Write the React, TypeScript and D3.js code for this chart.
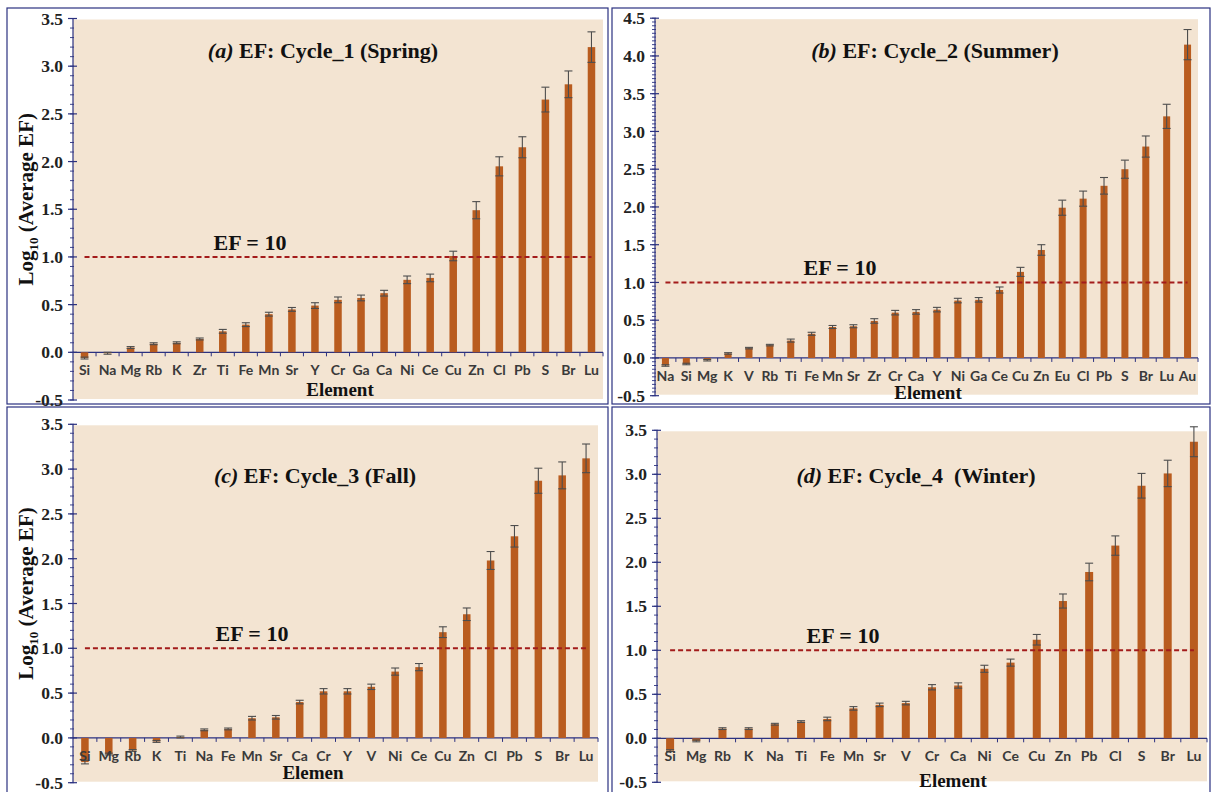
import React from 'react'
import * as d3 from 'd3'

// (a) Cycle_1 spring
const catsA = ['Si','Na','Mg','Rb','K','Zr','Ti','Fe','Mn','Sr','Y','Cr','Ga','Ca','Ni','Ce','Cu','Zn','Cl','Pb','S','Br','Lu']
const valsA = [-0.06,-0.01,0.05,0.09,0.10,0.14,0.22,0.29,0.40,0.45,0.49,0.55,0.57,0.62,0.76,0.78,1.01,1.49,1.95,2.15,2.65,2.81,3.20]
const errsA = [0.01,0.01,0.01,0.01,0.01,0.01,0.02,0.02,0.02,0.02,0.03,0.03,0.03,0.03,0.04,0.04,0.05,0.09,0.10,0.11,0.13,0.14,0.16]

// (b) Cycle_2 summer
const catsB = ['Na','Si','Mg','K','V','Rb','Ti','Fe','Mn','Sr','Zr','Cr','Ca','Y','Ni','Ga','Ce','Cu','Zn','Eu','Cl','Pb','S','Br','Lu','Au']
const valsB = [-0.10,-0.08,-0.03,0.06,0.13,0.17,0.23,0.32,0.41,0.42,0.49,0.60,0.61,0.64,0.76,0.77,0.90,1.14,1.43,1.99,2.11,2.28,2.50,2.80,3.20,4.15]
const errsB = [0.01,0.01,0.01,0.01,0.01,0.01,0.02,0.02,0.02,0.02,0.03,0.03,0.03,0.03,0.03,0.03,0.04,0.06,0.07,0.10,0.10,0.11,0.12,0.14,0.16,0.20]

// (c) Cycle_3 fall
const catsC = ['Si','Mg','Rb','K','Ti','Na','Fe','Mn','Sr','Ca','Cr','Y','V','Ni','Ce','Cu','Zn','Cl','Pb','S','Br','Lu']
const valsC = [-0.27,-0.18,-0.14,-0.04,0.01,0.09,0.10,0.22,0.23,0.40,0.52,0.52,0.57,0.74,0.79,1.18,1.38,1.98,2.25,2.87,2.93,3.12]
const errsC = [0.02,0.01,0.01,0.01,0.01,0.01,0.01,0.02,0.02,0.02,0.03,0.03,0.03,0.04,0.04,0.06,0.07,0.10,0.12,0.14,0.15,0.16]

// (d) Cycle_4 winter
const catsD = ['Si','Mg','Rb','K','Na','Ti','Fe','Mn','Sr','V','Cr','Ca','Ni','Ce','Cu','Zn','Pb','Cl','S','Br','Lu']
const valsD = [-0.14,-0.03,0.11,0.11,0.16,0.19,0.22,0.34,0.38,0.40,0.58,0.60,0.79,0.86,1.12,1.56,1.89,2.19,2.87,3.01,3.37]
const errsD = [0.01,0.01,0.01,0.01,0.01,0.01,0.02,0.02,0.02,0.02,0.03,0.03,0.04,0.04,0.06,0.08,0.10,0.11,0.14,0.15,0.17]

const yTicks4 = [-0.5,0,0.5,1,1.5,2,2.5,3,3.5]
const yTicks5 = [-0.5,0,0.5,1,1.5,2,2.5,3,3.5,4,4.5]

const serif = '"Liberation Serif", "Times New Roman", serif'
const sans = 'Lato, "Open Sans", sans-serif'
const navy = '#2b3180'
const barColor = '#b95c1f'

function Panel(p: any) {
  const x = d3.scaleBand().domain(p.cats).range([p.left, p.right]).padding(0)
  const y = d3.scaleLinear().domain([p.yMin, p.yMax]).range([p.bottom, p.top])
  const y0 = y(0)
  const bw = p.barW
  const minor = d3.range(p.yMin, p.yMax + 1e-9, p.minorStep)
  const first = x(p.cats[0])! + x.bandwidth() / 2
  const last = x(p.cats[p.cats.length - 1])! + x.bandwidth() / 2
  return (
    <g>
      <rect x={p.box[0]} y={p.box[1]} width={p.box[2]} height={p.box[3]} fill="#fff" stroke={navy} strokeWidth={1.2} />
      <rect x={p.left} y={y(p.yMax) + 1} width={p.right - p.left} height={y(p.yMin) - y(p.yMax) - 2} fill="#f3e4d2" />
      {/* y axis */}
      <line x1={p.left} x2={p.left} y1={y(p.yMax)} y2={y(p.yMin)} stroke={navy} strokeWidth={1.2} />
      {minor.map((t, i) => (
        <line key={'m' + i} x1={p.left - 3} x2={p.left + 1} y1={y(t)} y2={y(t)} stroke={navy} strokeWidth={0.9} />
      ))}
      {p.ticks.map((t: number) => (
        <g key={t}>
          <line x1={p.left - 5} x2={p.left + 4} y1={y(t)} y2={y(t)} stroke={navy} strokeWidth={1.2} />
          <text x={p.left - 10} y={y(t)} dy="0.35em" textAnchor="end" fontFamily={serif} fontWeight="bold" fontSize={17.5} fill="#222">{t.toFixed(1)}</text>
        </g>
      ))}
      {/* x axis */}
      <line x1={p.left} x2={p.right} y1={y0} y2={y0} stroke={navy} strokeWidth={1.2} />
      {p.cats.map((c: string, i: number) => (
        <line key={'t' + i} x1={x(c)! + x.bandwidth()} x2={x(c)! + x.bandwidth()} y1={y0} y2={y0 + 4} stroke={navy} strokeWidth={1} />
      ))}
      {/* bars */}
      {p.cats.map((c: string, i: number) => {
        const v = p.vals[i]
        const cx = x(c)! + x.bandwidth() / 2
        return (
          <rect key={'b' + i} x={cx - bw / 2} y={Math.min(y(v), y0)} width={bw} height={Math.abs(y(v) - y0)} fill={barColor} />
        )
      })}
      {/* error bars */}
      {p.cats.map((c: string, i: number) => {
        const v = p.vals[i]
        const e = p.errs[i]
        const cx = x(c)! + x.bandwidth() / 2
        const hi = y(v + e), lo = y(v - e)
        return (
          <g key={'e' + i} stroke="#4d4d4d" strokeWidth={1.1}>
            <line x1={cx} x2={cx} y1={hi} y2={lo} />
            <line x1={cx - 4} x2={cx + 4} y1={hi} y2={hi} />
            <line x1={cx - 4} x2={cx + 4} y1={lo} y2={lo} />
          </g>
        )
      })}
      {p.cats.map((c: string, i: number) => (
        <text key={'l' + i} x={x(c)! + x.bandwidth() / 2} y={y0 + 23} textAnchor="middle" fontFamily={sans} fontWeight="bold" fontSize={14} fill="#3a3a3a">{c}</text>
      ))}
      {/* EF = 10 reference */}
      <line x1={first} x2={last} y1={y(1)} y2={y(1)} stroke="#a31b1b" strokeWidth={2} strokeDasharray="5,3" />
      <text x={p.efX} y={y(1) - 7} textAnchor="middle" fontFamily={serif} fontWeight="bold" fontSize={22} fill="#111">EF = 10</text>
      {/* titles */}
      <text x={p.titleX} y={p.titleY} textAnchor="middle" fontFamily={serif} fontWeight="bold" fontSize={22} fill="#111" style={{ whiteSpace: 'pre' }}>
        <tspan fontStyle="italic">{p.tag}</tspan>{p.title}
      </text>
      <text x={p.xTitleX} y={p.xTitleY} textAnchor="middle" fontFamily={serif} fontWeight="bold" fontSize={19} fill="#111">{p.xTitle}</text>
      {p.yTitle && (
        <text transform={`translate(${p.yTitleX},${(p.top + p.bottom) / 2 - 10}) rotate(-90)`} textAnchor="middle" fontFamily={serif} fontWeight="bold" fontSize={21} fill="#111">
          Log<tspan fontSize={13} dy={5}>10</tspan><tspan dy={-5}> (Average EF)</tspan>
        </text>
      )}
    </g>
  )
}

export default function App() {
  return (
    <svg width={1212} height={792} style={{ position: 'absolute', left: 0, top: 0, background: '#fff' }}>
      <Panel cats={catsA} vals={valsA} errs={errsA} box={[7, 8, 601, 396]} left={73} right={603} top={18.5} bottom={400}
        yMin={-0.5} yMax={3.5} ticks={yTicks4} minorStep={0.1} barW={7.5}
        tag="(a)" title=" EF: Cycle_1 (Spring)" titleX={323} titleY={58} efX={250}
        xTitle="Element" xTitleX={340} xTitleY={396} yTitle yTitleX={33} />
      <Panel cats={catsB} vals={valsB} errs={errsB} box={[612, 8, 598, 396]} left={655} right={1198} top={18.2} bottom={395.7}
        yMin={-0.5} yMax={4.5} ticks={yTicks5} minorStep={0.05} barW={7}
        tag="(b)" title=" EF: Cycle_2 (Summer)" titleX={935} titleY={58} efX={840}
        xTitle="Element" xTitleX={928} xTitleY={399} />
      <Panel cats={catsC} vals={valsC} errs={errsC} box={[7, 407, 601, 392]} left={73} right={598} top={424.3} bottom={782.7}
        yMin={-0.5} yMax={3.5} ticks={yTicks4} minorStep={0.1} barW={7.5}
        tag="(c)" title=" EF: Cycle_3 (Fall)" titleX={315} titleY={483} efX={252}
        xTitle="Elemen" xTitleX={313} xTitleY={779} yTitle yTitleX={33} />
      <Panel cats={catsD} vals={valsD} errs={errsD} box={[612, 407, 598, 392]} left={657} right={1207} top={430.3} bottom={782.3}
        yMin={-0.5} yMax={3.5} ticks={yTicks4} minorStep={0.1} barW={8}
        tag="(d)" title=" EF: Cycle_4  (Winter)" titleX={916} titleY={483} efX={843}
        xTitle="Element" xTitleX={953} xTitleY={787} />
    </svg>
  )
}
